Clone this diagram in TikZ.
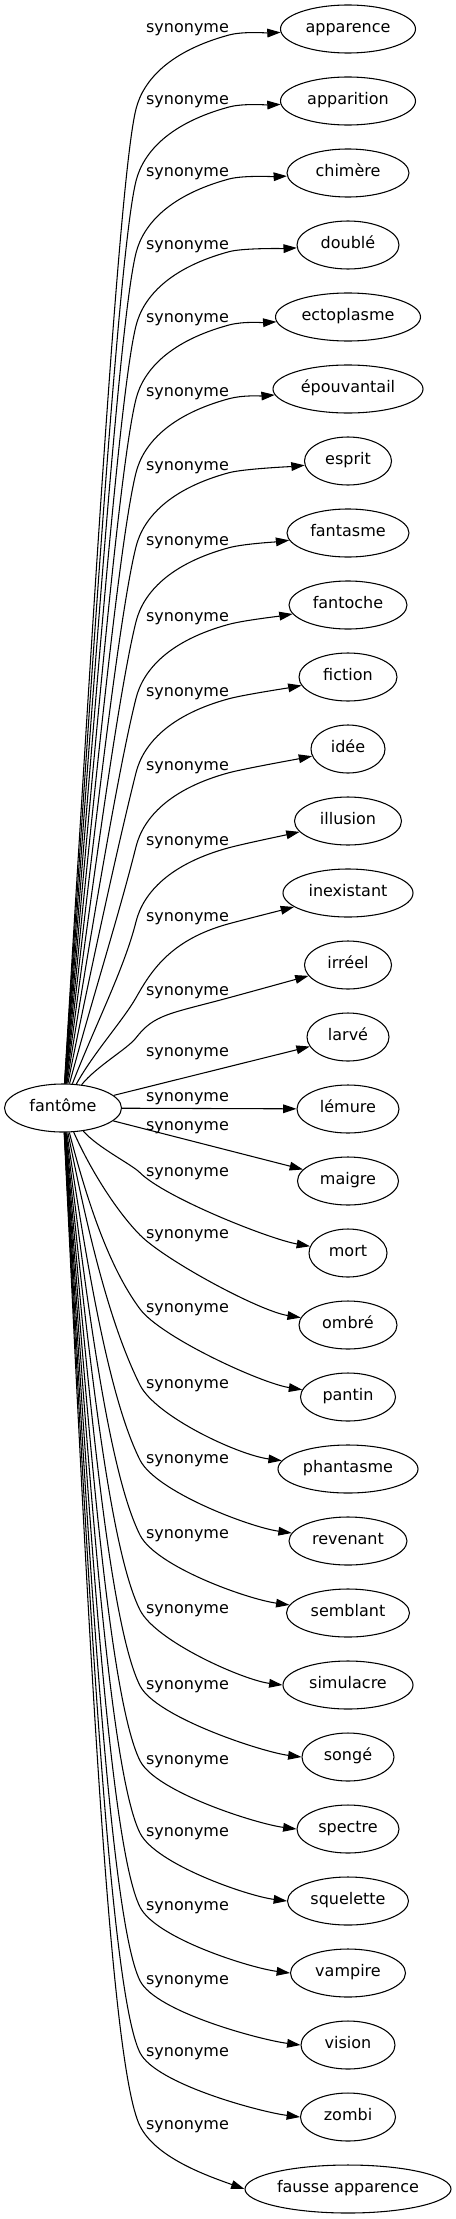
\documentclass[tikz,border=0pt]{standalone}
\usepackage{fontspec}
\setmainfont{DejaVu Sans}
\usetikzlibrary{arrows.meta,shapes.geometric}
\begin{document}
\begin{tikzpicture}[x=0.75pt,y=-0.75pt,
  font=\fontsize{12pt}{14pt}\selectfont,
  tgt/.style={draw, ellipse, inner sep=0pt, minimum height=36pt, text height=0.547em, text depth=0pt, line width=0.8pt},
  lbl/.style={inner sep=0pt, text height=0.547em, text depth=0pt},
  link/.style={draw, line width=0.8pt, -{Triangle[length=10pt,width=6.5pt]}}]
\useasboundingbox (0,0) rectangle (456,2219);
\node[tgt, minimum width=87.75pt] (fantome) at (63,1108) {fantôme};
% upper edges
\foreach \nm/\txt/\w/\yl/\i in {
  apparence/apparence/135/29/0,
  apparition/apparition/135/101/1,
  chimere/chimère/122/173/2,
  double/doublé/102/245.7/3,
  ectoplasme/ectoplasme/145/319/4,
  epouvantail/épouvantail/150/392.7/5,
  esprit/esprit/87/466.7/6,
  fantasme/fantasme/122/541.7/7,
  fantoche/fantoche/118/618.3/8,
  fiction/fiction/98/692.7/9,
  idee/idée/74/766.7/10,
  illusion/illusion/107/841.7/11,
  inexistant/inexistant/130/917.7/12,
  irreel/irréel/87/991.7/13}{
  \pgfmathsetmacro\yn{29+72*\i}
  \pgfmathsetmacro\xw{348-\w/2}
  \pgfmathsetmacro\mw{\w*0.75}
  \node[tgt, minimum width=\mw pt] (\nm) at (348,\yn) {\txt};
  \node[lbl] (l\i) at (187.5,\yl) {synonyme};
  \pgfmathsetmacro\by{min(\yl+80,\yl+0.5*(1084-\yl))}
  \pgfmathsetmacro\ex{0.25+0.75*max(0,min(1,(150-(1084-\by))/150))}
  \pgfmathsetmacro\tn{sqrt(\ex*\ex+1)}
  \pgfmathsetmacro\ux{\ex/\tn}
  \pgfmathsetmacro\uy{-1/\tn}
  \pgfmathsetmacro\mm{min(70,0.3*(1084-\by))}
  \pgfmathsetmacro\ptx{136-\mm*\ux}
  \pgfmathsetmacro\pty{\by-\mm*\uy}
  \pgfmathsetmacro\pox{(65+\ptx)/2}
  \pgfmathsetmacro\poy{(1084+\pty)/2}
  \pgfmathsetmacro\cax{136+30*\ux}
  \pgfmathsetmacro\cay{\by+30*\uy}
  \pgfmathsetmacro\vy{\yl+6}
  \pgfmathsetmacro\cby{\yl+22}
  \pgfmathsetmacro\ccx{229+15*0.965}
  \pgfmathsetmacro\ccy{\vy-15*0.26}
  \pgfmathsetmacro\cdx{\xw-12}
  \pgfmathsetmacro\cdy{\yn+(\vy-\yn)*(348-\cdx)/119}
  \draw[link] (fantome) .. controls (\pox,\poy) and (\ptx,\pty) .. (136,\by)
     .. controls (\cax,\cay) and (170,\cby) .. (229,\vy)
     .. controls (\ccx,\ccy) and (\cdx,\cdy) .. (\nm);
}
% straight edges
\foreach \nm/\txt/\w/\yl/\i in {
  larve/larvé/82/1052.7/14,
  lemure/lémure/102/1098/15,
  maigre/maigre/101/1126.7/16}{
  \pgfmathsetmacro\yn{29+72*\i}
  \pgfmathsetmacro\mw{\w*0.75}
  \node[tgt, minimum width=\mw pt] (\nm) at (348,\yn) {\txt};
  \node[lbl] (l\i) at (187.5,\yl) {synonyme};
  \draw[link] (fantome) -- (\nm);
}
% lower edges
\foreach \nm/\txt/\w/\yl/\i/\f in {
  mort/mort/78/1172.7/17/0,
  ombre/ombré/98/1235/18/0,
  pantin/pantin/95/1309/19/0,
  phantasme/phantasme/140/1385/20/0,
  revenant/revenant/118/1460/21/0,
  semblant/semblant/123/1535/22/0,
  simulacre/simulacre/130/1610/23/1,
  songe/songé/92/1685.7/24/1,
  spectre/spectre/102/1760.7/25/1,
  squelette/squelette/121/1833/26/1,
  vampire/vampire/115/1907/27/1,
  vision/vision/94/1980.7/28/1,
  zombi/zombi/95/2052.7/29/1,
  fausse/fausse apparence/206/2126/30/2}{
  \pgfmathsetmacro\yn{29+72*\i}
  \pgfmathsetmacro\xw{348-\w/2}
  \pgfmathsetmacro\mw{\w*0.75}
  \node[tgt, minimum width=\mw pt] (\nm) at (348,\yn) {\txt};
  \node[lbl] (l\i) at (187.5,\yl) {synonyme};
  \pgfmathsetmacro\ey{\yl}
  \pgfmathsetmacro\ex{0.5+0.5*max(0,min(1,(250-(\ey-1132))/150))}
  \pgfmathsetmacro\tn{sqrt(\ex*\ex+1)}
  \pgfmathsetmacro\ux{\ex/\tn}
  \pgfmathsetmacro\uy{1/\tn}
  \pgfmathsetmacro\mm{min(70,0.3*(\ey-1132))}
  \pgfmathsetmacro\ptx{140-\mm*\ux}
  \pgfmathsetmacro\pty{\ey-\mm*\uy}
  \pgfmathsetmacro\pox{(65+\ptx)/2}
  \pgfmathsetmacro\poy{(1132+\pty)/2}
  \pgfmathsetmacro\cax{140+35*\ux}
  \pgfmathsetmacro\cay{\ey+35*\uy}
  \pgfmathsetmacro\cdx{\xw-40}
  \ifnum\f=1
    \pgfmathsetmacro\cdy{\yn-5}
    \draw[link] (fantome) .. controls (\pox,\poy) and (\ptx,\pty) .. (140,\ey)
       .. controls (\cax,\cay) and (\cdx,\cdy) .. (\nm.west);
  \else\ifnum\f=2
    \pgfmathsetmacro\cdy{\yn-14}
    \draw[link] (fantome) .. controls (\pox,\poy) and (\ptx,\pty) .. (140,\ey)
       .. controls (\cax,\cay) and (\cdx,\cdy) .. (\nm.west);
  \else
    \pgfmathsetmacro\cdy{\yn-14}
    \draw[link] (fantome) .. controls (\pox,\poy) and (\ptx,\pty) .. (140,\ey)
       .. controls (\cax,\cay) and (\cdx,\cdy) .. (\nm);
  \fi\fi
}
\end{tikzpicture}
\end{document}
